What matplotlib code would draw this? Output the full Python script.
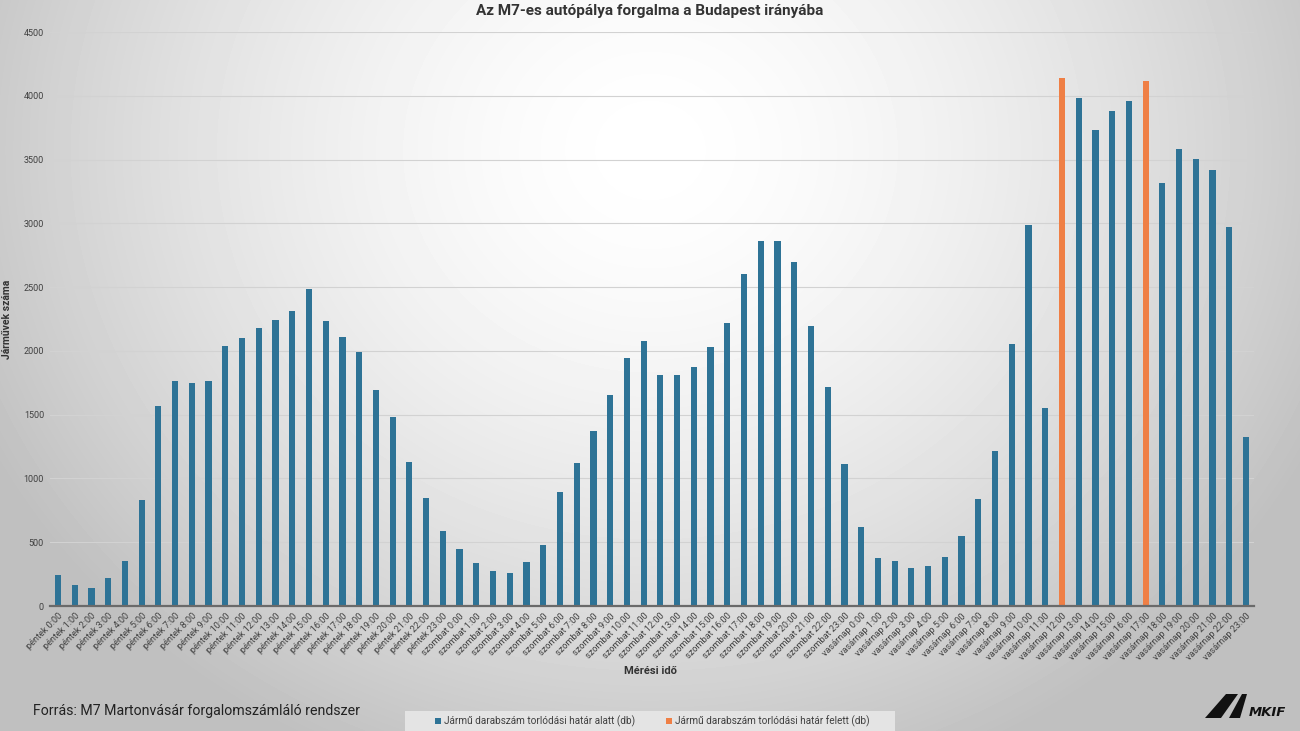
import numpy as np
import matplotlib.pyplot as plt
from matplotlib.patches import Polygon, Rectangle

days = ["péntek"] * 24 + ["szombat"] * 24 + ["vasárnap"] * 24
hours = [f"{h}:00" for h in range(24)] * 3
labels = [f"{d} {h}" for d, h in zip(days, hours)]

values = [243, 168, 141, 220, 353, 831, 1568, 1764, 1748, 1764, 2038, 2101,
          2179, 2242, 2312, 2485, 2234, 2109, 1991, 1693, 1482, 1129, 847, 588,
          447, 337, 274, 259, 345, 478, 894, 1121, 1372, 1654, 1944, 2077,
          1811, 1811, 1874, 2030, 2219, 2603, 2861, 2861, 2697, 2195, 1717, 1113,
          619, 376, 353, 298, 314, 384, 549, 839, 1215, 2054, 2987, 1552,
          4139, 3982, 3732, 3880, 3959, 4116, 3316, 3583, 3504, 3418, 2971, 1325]
over_limit = [i for i, v in enumerate(values) if v > 4000]

series_below = "Jármű darabszám torlódási határ alatt (db)"
series_above = "Jármű darabszám torlódási határ felett (db)"
blue = "#2e7396"
orange = "#ef7f45"

W, H = 1300, 731
fig = plt.figure(figsize=(W / 100, H / 100), dpi=100)
plt.rcParams['font.family'] = ['Roboto', 'DejaVu Sans']

# background gradient
bg = fig.add_axes([0, 0, 1, 1], zorder=-10)
yy, xx = np.mgrid[0:H, 0:W]
d = np.sqrt(((xx - 650) / 780) ** 2 + ((yy - 150) / 700) ** 2)
shade = np.clip(1.0 - 0.27 * d ** 1.6, 0.75, 1.0)
bg.imshow(shade, cmap="gray", vmin=0, vmax=1, aspect="auto", extent=[0, 1, 0, 1])
bg.axis("off")

x0 = 49.6 / W
x1 = 1254.4 / W
y0 = 1 - 606 / H
y1 = 1 - 32 / H
ax = fig.add_axes([x0, y0, x1 - x0, y1 - y0])
ax.patch.set_alpha(0)

x = np.arange(len(values))
below = [v if i not in over_limit else 0 for i, v in enumerate(values)]
above = [v if i in over_limit else 0 for i, v in enumerate(values)]
ax.bar(x, below, width=0.37, color=blue, zorder=3, label=series_below)
ax.bar(x, above, width=0.37, color=orange, zorder=3, label=series_above)

ax.set_xlim(-0.5, len(values) - 0.5)
ax.set_ylim(0, 4500)
ax.set_yticks(range(0, 4501, 500))
ax.set_yticklabels([str(v) for v in range(0, 4501, 500)], fontsize=6.5, color="#404040")
ax.yaxis.grid(True, color="#d2d2d2", linewidth=0.8, zorder=0)
ax.set_xticks(x)
ax.set_xticklabels(labels, rotation=45, ha="right", rotation_mode="anchor",
                   fontsize=6.6, color="#404040")
ax.tick_params(axis="both", length=0, pad=4)
for s in ["top", "right", "left"]:
    ax.spines[s].set_visible(False)
ax.spines["bottom"].set_color("#6a6a6a")
ax.spines["bottom"].set_linewidth(1.6)
ax.spines["bottom"].set_zorder(4)

ax.set_ylabel("Járművek száma", fontsize=7.5, fontweight="bold", color="#333333", labelpad=8)
fig.text(650 / W, 1 - 671 / H, "Mérési idő", ha="center", va="center",
         fontsize=8, fontweight="bold", color="#333333")
fig.text(650 / W, 1 - 11 / H, "Az M7-es autópálya forgalma a Budapest irányába",
         ha="center", va="center", fontsize=11, fontweight="bold", color="#333333")
fig.text(33 / W, 1 - 711 / H, "Forrás: M7 Martonvásár forgalomszámláló rendszer",
         ha="left", va="center", fontsize=10.2, color="#222222")

# legend box
fig.patches.append(Rectangle((405 / W, 0), 490 / W, 20 / H, transform=fig.transFigure,
                             facecolor="#e4e4e4", edgecolor="none", zorder=1))
fig.patches.append(Rectangle((435 / W, 1 - 724 / H), 6 / W, 6 / H, transform=fig.transFigure,
                             facecolor=blue, edgecolor="none", zorder=2))
fig.text(444 / W, 1 - 721 / H, series_below, ha="left", va="center", fontsize=7.2, color="#404040")
fig.patches.append(Rectangle((666 / W, 1 - 724 / H), 6 / W, 6 / H, transform=fig.transFigure,
                             facecolor=orange, edgecolor="none", zorder=2))
fig.text(675 / W, 1 - 721 / H, series_above, ha="left", va="center", fontsize=7.2, color="#404040")

# MKIF logo
def P(px, py):
    return (px / W, 1 - py / H)
fig.patches.append(Polygon([P(1205, 718), P(1226, 694), P(1238, 694), P(1221, 718)],
                           closed=True, transform=fig.transFigure, facecolor="#111111", zorder=2))
fig.patches.append(Polygon([P(1229, 718), P(1242, 694), P(1247, 694), P(1240, 718)],
                           closed=True, transform=fig.transFigure, facecolor="#111111", zorder=2))
fig.text(1249 / W, 1 - 712 / H, "MKIF", ha="left", va="center", fontsize=9.5,
         fontweight="bold", fontstyle="italic", color="#111111", family="DejaVu Sans")

fig.savefig("out.png", dpi=100)
